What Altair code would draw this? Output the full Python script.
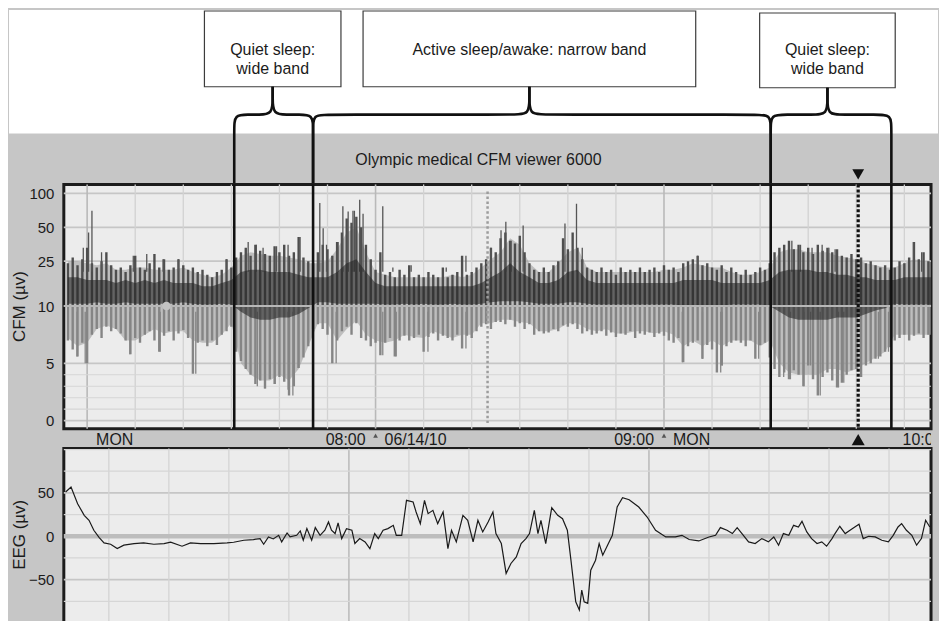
import math
import altair as alt
import pandas as pd

FONT = "Liberation Sans"
INK = "#1b1b1b"
PANEL_GREY = "#c6c6c6"
PLOT_FILL = "#ececec"

# ---------------- CFM trace (minutes after 07:00, µV) ----------------
# typical band, 2-minute bins
cfm_minute = list(range(-4, 177, 2))
cfm_upper = [25, 25, 24, 23, 24, 21, 21, 22, 22, 21, 21, 21, 22, 20, 19, 18, 19, 22,
             28, 30, 29, 28, 28, 27, 26, 24,
             24, 25, 32, 45, 50, 30, 20, 19, 18, 18, 18, 18, 18, 18, 19, 18, 19, 22, 26, 30,
             40, 35, 24, 20, 20, 24, 30, 33, 22, 20, 20, 20, 20, 20, 20, 20, 21, 21, 22, 24,
             23, 22, 22, 20, 19, 19, 20, 22,
             30, 32, 32, 30, 30, 30, 28, 27, 26, 24, 23, 22,
             22, 24, 26, 25, 25]
cfm_lower = [7.2, 6.5, 6.8, 8, 8.3, 8, 7, 7, 7.5, 8, 7.6, 7.8, 7.8, 7, 6.8, 6.8, 7.5, 8.5,
             5, 4, 3.5, 3.5, 4, 3.5, 4.5, 6.5,
             8.5, 8.5, 7, 8, 8.7, 7.5, 7, 6.8, 7, 7.5, 7.3, 7.2, 7.8, 7.5, 7.2, 7.5, 7.5, 8.5, 8.5, 8.8,
             8.8, 8.6, 8.5, 7.8, 7.8, 8, 8.5, 8.5, 8, 7.8, 8, 7.6, 7.6, 7.8, 7.8, 7.6, 7.8, 7.5,
             6.5, 7, 6.5, 7, 6.5, 7, 7, 7, 6.5, 7,
             5, 4.2, 4, 4, 4, 4.5, 4.5, 4.2, 4.5, 5, 5.5, 6,
             7.5, 7.5, 7.5, 7.5, 7.5]
cfm_core_top = [18, 18, 17, 17, 17, 16, 17, 16, 17, 16, 17, 16, 16, 16, 15, 15, 16, 17,
                20, 21, 21, 20, 20, 20, 19, 18,
                18, 18, 20, 24, 26, 20, 16, 15, 15, 15, 15, 15, 15, 15, 15, 15, 15, 16, 18, 20,
                24, 20, 18, 16, 16, 17, 20, 21, 17, 16, 16, 16, 16, 16, 16, 16, 16, 16,
                17, 17, 17, 17, 16, 16, 16, 16, 16, 17,
                20, 21, 21, 21, 20, 20, 19, 19, 18, 18, 17, 17,
                17, 18, 18, 18, 18]
cfm_core_bot = [10.5, 10.5, 10.5, 10.8, 10.5, 10.5, 10.8, 10.5, 10.5, 10.5, 10.5, 10.5, 10.8, 10.5,
                10.3, 10.3, 10.5, 10.3,
                9.5, 9, 8.8, 8.8, 9, 9, 9.3, 9.8,
                10.8, 10.8, 10.5, 10.5, 10.5, 10.5, 10.5, 10.3, 10.3, 10.5, 10.3, 10.5, 10.3, 10.3,
                10.5, 10.3, 10.3, 10.5, 10.8, 11,
                11, 11, 10.8, 10.5, 10.5, 10.5, 10.8, 10.8, 10.5, 10.3, 10.3, 10.3, 10.3, 10.3,
                10.3, 10.3, 10.3, 10.3, 10, 10, 10, 10, 10, 10.3, 10.3, 10.3, 10.3, 10,
                9.5, 9, 8.8, 8.8, 8.8, 8.8, 9, 9, 9, 9.3, 9.6, 9.8,
                10.5, 10.3, 10.3, 10.3, 10.3]

# spike tips, 1-minute bins
cfm_minute_1 = list(range(-4, 177))
cfm_max_1 = [24, 27, 23, 26, 33, 24, 22, 25, 30, 23,
             21, 22, 20, 23, 28, 22, 21, 24, 29, 22,
             26, 21, 22, 26, 23, 21, 22, 20, 21, 19,
             18, 20, 21, 26, 22, 27, 30, 33, 28, 35,
             31, 29, 28, 34, 30, 35, 28, 30, 41, 27,
             25, 24, 30, 35, 32, 28, 37, 45, 60, 55,
             62, 50, 35, 26, 21, 30, 19, 20, 18, 21,
             19, 23, 18, 19, 18, 20, 19, 18, 22, 18,
             19, 20, 28, 19, 20, 22, 24, 26, 33, 30,
             40, 45, 38, 36, 42, 30, 24, 21, 20, 22,
             20, 23, 25, 40, 32, 45, 33, 26, 22, 21,
             20, 22, 20, 21, 19, 22, 20, 21, 20, 22,
             20, 21, 22, 20, 23, 21, 22, 20, 24, 25,
             26, 28, 23, 24, 22, 21, 23, 20, 22, 20,
             19, 21, 19, 20, 22, 21, 24, 30, 33, 35,
             38, 32, 35, 30, 33, 29, 35, 31, 33, 30,
             32, 28, 27, 29, 26, 27, 24, 25, 23, 22,
             23, 21, 22, 25, 24, 27, 37, 26, 30, 25,
             24]
cfm_min_1 = [7.0, 6.2, 5.6, 6.8, 5.0, 7.5, 8.0, 7.2, 8.2, 7.8,
             8.0, 7.6, 7.0, 5.8, 7.2, 6.8, 7.5, 7.8, 7.0, 6.0,
             7.4, 7.8, 7.0, 7.6, 7.9, 7.2, 4.1, 6.8, 7.0, 6.5,
             7.0, 6.6, 7.5, 7.8, 8.2, 6.0, 5.2, 4.5, 4.0, 3.2,
             3.5, 2.8, 3.6, 3.2, 3.8, 3.4, 2.2, 3.0, 4.6, 5.5,
             6.5, 8.0, 8.4, 8.0, 7.5, 5.0, 7.0, 7.8, 8.2, 7.5,
             8.5, 7.2, 7.0, 6.5, 6.8, 5.7, 6.8, 7.2, 5.6, 7.0,
             7.4, 7.0, 7.2, 7.5, 6.0, 7.3, 7.6, 7.0, 7.4, 7.2,
             7.0, 7.5, 6.3, 7.4, 7.2, 7.8, 8.2, 8.4, 8.0, 8.6,
             8.6, 8.4, 8.8, 8.2, 8.5, 8.0, 8.4, 7.5, 7.8, 7.6,
             7.7, 8.0, 7.8, 8.3, 8.2, 8.4, 8.0, 7.6, 7.8, 7.5,
             7.6, 7.8, 7.4, 7.7, 7.3, 7.6, 7.5, 7.8, 7.2, 7.6,
             7.5, 7.7, 7.3, 7.6, 7.4, 7.0, 6.8, 7.2, 5.1, 6.5,
             6.8, 7.0, 5.4, 6.6, 6.2, 4.2, 4.8, 6.5, 6.8, 7.0,
             6.8, 6.5, 7.0, 5.4, 6.6, 6.8, 5.5, 4.5, 3.8, 4.2,
             3.6, 4.4, 4.0, 3.0, 4.8, 3.6, 2.2, 3.8, 4.2, 3.5,
             2.9, 3.3, 4.0, 4.4, 4.5, 3.8, 4.8, 5.0, 5.4, 5.6,
             6.0, 6.4, 7.0, 7.2, 7.5, 7.0, 7.4, 7.6, 7.2, 7.5,
             7.5]

# isolated spikes beyond the band (minute, µV)
spike_up_minute = [-0.8, 0.3, 1.0, 3, 9.6, 12.4, 15.8, 19, 29,
                   33.5, 35.2, 36.6, 39.4, 41.8, 44.3,
                   48.4, 49.1, 49.8, 52.2, 53.2, 54.3, 55.3, 55.6, 56.7, 57.4, 61.5, 63.6, 67.4,
                   74.7, 78.8, 84, 86.1,
                   87.1, 88.2, 90.7, 99.4, 101.8, 103, 127,
                   146.6, 148.4, 150.8, 152.9, 154.3, 155.6, 171.9, 173.6]
spike_up_value = [33, 45, 70, 30, 28, 29, 26, 26, 26,
                  37, 35, 33, 34, 35, 41,
                  82, 49, 35, 37, 77, 69, 70, 70, 88, 66, 77, 22, 23, 22, 28, 33, 47,
                  56, 38, 52, 54, 81, 33, 28,
                  38, 35, 33, 35, 33, 32, 37, 30]
spike_dn_minute = [-2.1, -0.4, 8.9, 15.2, 22.6,
                   35.4, 37, 39.1, 41.8, 42.8, 43.9,
                   51.8, 61.5, 64.3, 70.9, 78.8,
                   123.8, 128, 131.8, 132.1, 139.7,
                   144.9, 146.3, 149.1, 150.5, 152.5, 156.3, 157.4, 160.1, 164.6, 166.7]
spike_dn_value = [5.6, 5.0, 5.8, 6.0, 4.1,
                  3.0, 2.8, 3.2, 2.7, 2.2, 4.6,
                  5.0, 5.7, 5.6, 6.0, 6.3,
                  5.1, 5.4, 4.2, 4.8, 5.4,
                  3.8, 3.6, 3.0, 4.8, 2.2, 2.9, 3.3, 4.5, 5.4, 6.0]

cfm_ticks = [0, 5, 10, 25, 50, 100]
cfm_minor_lines = [1, 2, 3, 4]
cfm_grid_minutes = [10, 20, 30, 40, 50, 70, 80, 90, 100, 110, 130, 140, 150, 160, 170]
cfm_hour_minutes = [0, 60, 120]

# ---------------- sleep-state annotation ----------------
state_bounds = [30.6, 47.0, 142.2, 167.3]        # minutes where the state changes
state_text = ["Quiet sleep:\nwide band", "Active sleep/awake: narrow band", "Quiet sleep:\nwide band"]
box_left = [24.4, 57.4, 139.9]
box_right = [52.8, 126.6, 168.1]
marker_grey_minute = 83.3
marker_black_minute = 160.4
artifact_dot_minute = 16.5

hour_minute = [0, 60, 120, 180]
hour_label = ["07:00", "08:00", "09:00", "10:00"]
date_label = ["MON", "06/14/10", "MON", "06/14/10"]

# ---------------- raw EEG (seconds, µV) ----------------
eeg_t = [0.28, 0.37, 0.48, 0.59, 0.67, 0.75, 0.84, 0.92, 1.03, 1.14, 1.25, 1.42, 1.58, 1.75, 1.92,
         2.03, 2.22, 2.36, 2.53, 2.75, 2.97, 3.08, 3.25, 3.41, 3.52, 3.58, 3.66, 3.74, 3.83, 3.88,
         3.97, 4.02, 4.13, 4.19, 4.24, 4.30, 4.38, 4.44, 4.52, 4.60, 4.66, 4.71, 4.77, 4.82, 4.88,
         4.96, 5.05, 5.10, 5.18, 5.27, 5.35, 5.43, 5.49, 5.57, 5.65, 5.74, 5.79, 5.88, 5.96, 6.07,
         6.12, 6.19, 6.26, 6.32, 6.40, 6.48, 6.57, 6.65, 6.71, 6.79, 6.90, 6.98,
         7.07, 7.15, 7.23, 7.32, 7.40, 7.45, 7.54, 7.62, 7.70, 7.79, 7.87, 7.95, 8.01, 8.09, 8.15,
         8.20, 8.28, 8.38, 8.48, 8.56, 8.64, 8.70, 8.78, 8.84, 8.88, 8.92, 8.98, 9.03, 9.11, 9.17,
         9.23, 9.31, 9.39, 9.47, 9.56, 9.67, 9.83, 9.97, 10.11, 10.28, 10.44, 10.55, 10.67, 10.83,
         11.00, 11.11, 11.19, 11.30, 11.39, 11.47, 11.55, 11.66, 11.77, 11.88, 11.99, 12.08, 12.16,
         12.24, 12.33, 12.41, 12.49, 12.55, 12.63, 12.71, 12.80, 12.88, 12.96, 13.05, 13.10, 13.18,
         13.27, 13.35, 13.43, 13.50, 13.57, 13.66, 13.77, 13.88, 13.99, 14.07, 14.15, 14.21, 14.29,
         14.38, 14.46, 14.54, 14.61, 14.68]
eeg_v = [51, 56.7, 37.5, 24.1, 18.4, 6.9, -1.5, -7.7, -9.2, -14.2, -10.3, -8.4, -7.7, -9.2, -8.4,
         -6.9, -11.5, -7.7, -8.4, -8.4, -7.7, -6.9, -4.6, -3.8, -2.7, -9.2, -0.8, -3.1, 1.1, -6.5,
         3.8, -0.8, 1.1, 6.1, -4.6, 8.8, -4.6, 10.0, 1.1, 6.9, 16.5, 6.9, 3.1, 15.3, -2.7,
         8.8, 6.9, -8.4, -2.7, -6.5, -14.2, 3.1, -2.7, 6.9, 8.8, 12.6, 1.1, 1.1, 41.4, 39.5,
         28.0, 14.6, 41.4, 26.1, 29.9, 14.6, 28.0, -14.2, 6.9, -6.5, 24.1, 18.4,
         -6.5, 18.4, 5.0, 16.5, 28.0, 3.1, -8.4, -42.9, -31.4, -23.8, -8.4, -2.7, 3.1, 29.9, 3.1,
         18.4, -8.4, 33.0, 24.1, 20.3, 6.9, -27.6, -75.5, -85.1, -62.1, -75.5, -77.4, -39.1, -27.6, -8.4,
         -21.8, -10.3, 1.1, 33.7, 44.4, 42.1, 33.7, 22.2, 6.9, -0.8, -0.8, 1.1, -3.8, -5.4,
         -0.8, 1.1, 10.0, 6.9, 3.1, 10.0, 3.1, -6.5, -8.4, -2.7, -6.5, -0.8, -10.3,
         3.1, 1.1, 12.6, 10.7, 17.2, 5.0, -2.7, -8.4, -6.5, -11.5, -2.7, 3.1, 11.5,
         3.1, 6.9, 10.7, 13.8, -2.7, 0.0, -0.8, -4.6, -6.5, 1.1, 10.7, 14.6, 6.9,
         1.1, -10.3, -2.7, 18.4, 10.7]
eeg_ticks = [-50, 0, 50]
eeg_minor_lines = [-100, -75, -25, 25, 75, 100]
eeg_major_lines = [-50, 50]
eeg_grid_seconds = [1, 2, 3, 4, 6, 7, 8, 9, 11, 12, 13, 14]
eeg_major_seconds = [5, 10]

assert len(cfm_minute) == len(cfm_upper) == len(cfm_lower) == len(cfm_core_top) == len(cfm_core_bot)
assert len(cfm_minute_1) == len(cfm_max_1) == len(cfm_min_1)
assert len(eeg_t) == len(eeg_v)

# ---------------- scales (semi-log aEEG amplitude scale) ----------------
DEC = 9.826  # scale units per decade above 10 µV


def cfm_expr(f):
    return f"datum.{f} <= 10 ? datum.{f} : 10 + {DEC} * log(datum.{f} / 10) / LN10"


def cfm_pos(v):
    return v if v <= 10 else 10 + DEC * math.log10(v / 10)


W = 870
X_CFM = alt.Scale(domain=[-4.85, 175.55], nice=False, zero=False)
Y_CFM = alt.Scale(domain=[-0.70, 20.61], nice=False, zero=False)
X_EEG = alt.Scale(domain=[0.25, 14.70], nice=False, zero=False)
Y_EEG = alt.Scale(domain=[-101.2, 101.1], nice=False, zero=False)
Y_TOP = alt.Scale(domain=[0, 175], reverse=True, nice=False, zero=False)
Y_STRIP = alt.Scale(domain=[0, 20], reverse=True, nice=False, zero=False)

AX_CFM = alt.Axis(values=[cfm_pos(v) for v in cfm_ticks],
                  labelExpr=f"datum.value <= 10.01 ? format(datum.value, '.0f') : "
                            f"format(pow(10, 1 + (datum.value - 10) / {DEC}), '.0f')",
                  ticks=False, domain=False, grid=False, labels=True, labelPadding=10,
                  labelFont=FONT, labelFontSize=15, labelColor=INK,
                  title="CFM (µv)", titleFont=FONT, titleFontSize=17, titleFontWeight="normal",
                  titleColor=INK, titleAngle=270, titleX=-44, titleY=122,
                  titleAlign="center", titleBaseline="middle", orient="left")
AX_EEG = alt.Axis(values=eeg_ticks, ticks=False, domain=False, grid=False, labels=True,
                  labelPadding=10, labelFont=FONT, labelFontSize=15, labelColor=INK,
                  title="EEG (µv)", titleFont=FONT, titleFontSize=17, titleFontWeight="normal",
                  titleColor=INK, titleAngle=270, titleX=-44, titleY=86,
                  titleAlign="center", titleBaseline="middle", orient="left")

xm = lambda f="m": alt.X(f"{f}:Q", scale=X_CFM, axis=None)

# ---------------- top annotation panel ----------------
white_df = pd.DataFrame({"m": [-16.25], "m2": [177.0], "y": [0], "y2": [124]})
white = alt.Chart(white_df).mark_rect(color="white").encode(
    x=xm(), x2="m2:Q", y=alt.Y("y:Q", scale=Y_TOP, axis=None), y2="y2:Q")

box_df = pd.DataFrame({"m": box_left, "m2": box_right, "y": [1, 1, 3], "y2": [77, 77, 78],
                       "c": [(a + b) / 2 for a, b in zip(box_left, box_right)],
                       "ty": [40.5, 40, 40], "text": state_text})
boxes = alt.Chart(box_df).mark_rect(fill="white", stroke="#3c3c3c", strokeWidth=1.2).encode(
    x=xm(), x2="m2:Q", y=alt.Y("y:Q", scale=Y_TOP, axis=None), y2="y2:Q")
box_text = alt.Chart(box_df).mark_text(font=FONT, fontSize=16, color=INK, lineBreak="\n",
                                       lineHeight=19, align="center", baseline="middle").encode(
    x=xm("c"), y=alt.Y("ty:Q", scale=Y_TOP, axis=None), text="text:N")

title_df = pd.DataFrame({"m": [81.4], "y": [151], "text": ["Olympic medical CFM viewer 6000"]})
title_txt = alt.Chart(title_df).mark_text(font=FONT, fontSize=16, color=INK, align="center",
                                          baseline="middle").encode(
    x=xm(), y=alt.Y("y:Q", scale=Y_TOP, axis=None), text="text:N")

# curly braces joining each label box to its state segment
YBAR, YEND = 105, 175
rows = []
stems = [(a + b) / 2 for a, b in zip(box_left, box_right)]
bottoms = [77, 77, 78]
for i in range(3):
    sc, a0, a1, yb = stems[i], state_bounds[i], state_bounds[i + 1], bottoms[i]
    for side, arm in (("L", a0), ("R", a1)):
        s = -1 if side == "L" else 1
        pts = [(sc, yb), (sc, yb + 10), (sc, YBAR), (sc + s * 3, YBAR), (arm - s * 3, YBAR),
               (arm, YBAR), (arm, YBAR + 14), (arm, YEND)]
        for k, (mm, yy) in enumerate(pts):
            rows.append({"g": f"{i}{side}", "k": k, "m": mm, "y": yy})
brace_df = pd.DataFrame(rows)
braces = alt.Chart(brace_df).mark_line(color="#111111", strokeWidth=2.6, interpolate="basis").encode(
    x=xm(), y=alt.Y("y:Q", scale=Y_TOP, axis=None), detail="g:N", order="k:Q")

tri_top = alt.Chart(pd.DataFrame({"m": [marker_black_minute], "y": [165]})).mark_point(
    shape="triangle-down", filled=True, size=140, color="#111111", opacity=1).encode(
    x=xm(), y=alt.Y("y:Q", scale=Y_TOP, axis=None))

top = alt.layer(white, title_txt, boxes, box_text, braces, tri_top).properties(
    width=W, height=175, view=alt.ViewBackground(stroke="transparent"))

# ---------------- CFM panel ----------------
cfm_df = pd.DataFrame({"m": cfm_minute, "up": cfm_upper, "lo": cfm_lower,
                       "ct": cfm_core_top, "cb": cfm_core_bot})
cfm1_df = pd.DataFrame({"m": cfm_minute_1, "hi": cfm_max_1, "lo": cfm_min_1})
yc = lambda f: alt.Y(f"{f}:Q", scale=Y_CFM, axis=AX_CFM)

hmajor = alt.Chart(pd.DataFrame({"v": cfm_ticks})).transform_calculate(
    t=cfm_expr("v")).mark_rule(color="#c6c6c6", strokeWidth=1.8).encode(y=yc("t"))
vgrid = alt.Chart(pd.DataFrame({"m": cfm_grid_minutes})).mark_rule(
    color="#d2d2d2", strokeWidth=1.3).encode(x=xm())
vhour = alt.Chart(pd.DataFrame({"m": cfm_hour_minutes})).mark_rule(
    color="#b9b9b9", strokeWidth=1.6).encode(x=xm())
hminor = alt.Chart(pd.DataFrame({"v": cfm_minor_lines})).transform_calculate(
    t=cfm_expr("v")).mark_rule(color="#d6d6d6", strokeWidth=1.1).encode(y=yc("t"))

base_band = alt.Chart(cfm_df).transform_calculate(a=cfm_expr("lo"), b=cfm_expr("up")).mark_area(
    color="#a0a0a0", opacity=0.6, clip=True).encode(x=xm(), y=yc("a"), y2="b:Q")
rules_low = alt.Chart(cfm1_df).transform_calculate(a=cfm_expr("lo"), b="10").mark_rule(
    color="#858585", strokeWidth=2.4, clip=True).encode(x=xm(), y=yc("a"), y2="b:Q")
rules_high = alt.Chart(cfm1_df).transform_calculate(a="10", b=cfm_expr("hi")).mark_rule(
    color="#4e4e4e", strokeWidth=2.4, clip=True).encode(x=xm(), y=yc("a"), y2="b:Q")
up_spikes = alt.Chart(pd.DataFrame({"m": spike_up_minute, "v": spike_up_value})).transform_calculate(
    t=cfm_expr("v"), b="13").mark_rule(color="#555555", strokeWidth=1.3, clip=True).encode(
    x=xm(), y=yc("t"), y2="b:Q")
dn_spikes = alt.Chart(pd.DataFrame({"m": spike_dn_minute, "v": spike_dn_value})).transform_calculate(
    t=cfm_expr("v"), b="9.5").mark_rule(color="#858585", strokeWidth=1.3, clip=True).encode(
    x=xm(), y=yc("t"), y2="b:Q")
core_band = alt.Chart(cfm_df).transform_calculate(a=cfm_expr("cb"), b=cfm_expr("ct")).mark_area(
    color="#262626", opacity=0.6, clip=True).encode(x=xm(), y=yc("a"), y2="b:Q")

ten_line = alt.Chart(pd.DataFrame({"v": [10]})).mark_rule(color="#b7b7b7", strokeWidth=2).encode(
    y=yc("v"))
dot = alt.Chart(pd.DataFrame({"m": [artifact_dot_minute], "v": [10]})).mark_circle(
    size=75, color="#c2c2c2", opacity=1).encode(x=xm(), y=yc("v"))
grey_marker = alt.Chart(pd.DataFrame({"m": [marker_grey_minute], "a": [20.0], "b": [-0.2]})).mark_rule(
    color="#9c9c9c", strokeWidth=2.5, strokeDash=[2.5, 2.5]).encode(x=xm(), y=yc("a"), y2="b:Q")
black_marker = alt.Chart(pd.DataFrame({"m": [marker_black_minute], "a": [20.61], "b": [-0.7]})).mark_rule(
    color="#111111", strokeWidth=3.2, strokeDash=[3, 2]).encode(x=xm(), y=yc("a"), y2="b:Q")
brackets = alt.Chart(pd.DataFrame({"m": state_bounds})).mark_rule(
    color="#111111", strokeWidth=2.6).encode(x=xm())

cfm = alt.layer(hmajor, vgrid, vhour, hminor, base_band, rules_low, rules_high, up_spikes,
                dn_spikes, core_band, ten_line, dot, grey_marker, black_marker, brackets).properties(
    width=W, height=245,
    view=alt.ViewBackground(fill=PLOT_FILL, stroke="#1c1c1c", strokeWidth=3))

# ---------------- time label strip ----------------
strip_df = pd.DataFrame({"m": hour_minute, "h": hour_label, "d": date_label, "y": [11] * 4,
                         "ty": [7] * 4})
ys = lambda f: alt.Y(f"{f}:Q", scale=Y_STRIP, axis=None)
hour_txt = alt.Chart(strip_df).transform_filter("datum.m > 10").mark_text(
    font=FONT, fontSize=16, color=INK, align="right", baseline="middle", dx=-10, clip=True).encode(
    x=xm(), y=ys("y"), text="h:N")
date_txt = alt.Chart(strip_df).transform_filter("datum.m < 170").mark_text(
    font=FONT, fontSize=16, color=INK, align="left", baseline="middle", dx=9, clip=True).encode(
    x=xm(), y=ys("y"), text="d:N")
hour_tri = alt.Chart(strip_df).transform_filter("datum.m > 10 && datum.m < 170").mark_point(
    shape="triangle-up", filled=True, size=22, color="#555555", opacity=1).encode(
    x=xm(), y=ys("ty"))
tri_bot = alt.Chart(pd.DataFrame({"m": [marker_black_minute], "y": [11]})).mark_point(
    shape="triangle-up", filled=True, size=170, color="#111111", opacity=1).encode(
    x=xm(), y=ys("y"))
strip = alt.layer(hour_txt, date_txt, hour_tri, tri_bot).properties(
    width=W, height=20, view=alt.ViewBackground(stroke="transparent"))

# ---------------- EEG panel ----------------
xe = lambda f: alt.X(f"{f}:Q", scale=X_EEG, axis=None)
ye = lambda f: alt.Y(f"{f}:Q", scale=Y_EEG, axis=AX_EEG)
e_hmajor = alt.Chart(pd.DataFrame({"v": eeg_major_lines})).mark_rule(
    color="#c6c6c6", strokeWidth=1.8).encode(y=ye("v"))
e_vgrid = alt.Chart(pd.DataFrame({"s": eeg_grid_seconds})).mark_rule(
    color="#d4d4d4", strokeWidth=1.3).encode(x=xe("s"))
e_vmajor = alt.Chart(pd.DataFrame({"s": eeg_major_seconds})).mark_rule(
    color="#bcbcbc", strokeWidth=1.6).encode(x=xe("s"))
e_hminor = alt.Chart(pd.DataFrame({"v": eeg_minor_lines})).mark_rule(
    color="#d6d6d6", strokeWidth=1.2).encode(y=ye("v"))
e_zero = alt.Chart(pd.DataFrame({"v": [0]})).mark_rule(
    color="#bdbdbd", strokeWidth=4.5).encode(y=ye("v"))
e_line = alt.Chart(pd.DataFrame({"s": eeg_t, "v": eeg_v})).mark_line(
    color="#1a1a1a", strokeWidth=1.2, clip=True).encode(x=xe("s"), y=ye("v"))

eeg = alt.layer(e_hmajor, e_vgrid, e_vmajor, e_hminor, e_zero, e_line).properties(
    width=W, height=176,
    view=alt.ViewBackground(fill=PLOT_FILL, stroke="#1c1c1c", strokeWidth=3))

chart = alt.vconcat(top, cfm, strip, eeg, spacing=0, bounds="flush").properties(
    background=PANEL_GREY, padding=0)

chart.save("out.html", embed_options={"renderer": "svg", "actions": False})
